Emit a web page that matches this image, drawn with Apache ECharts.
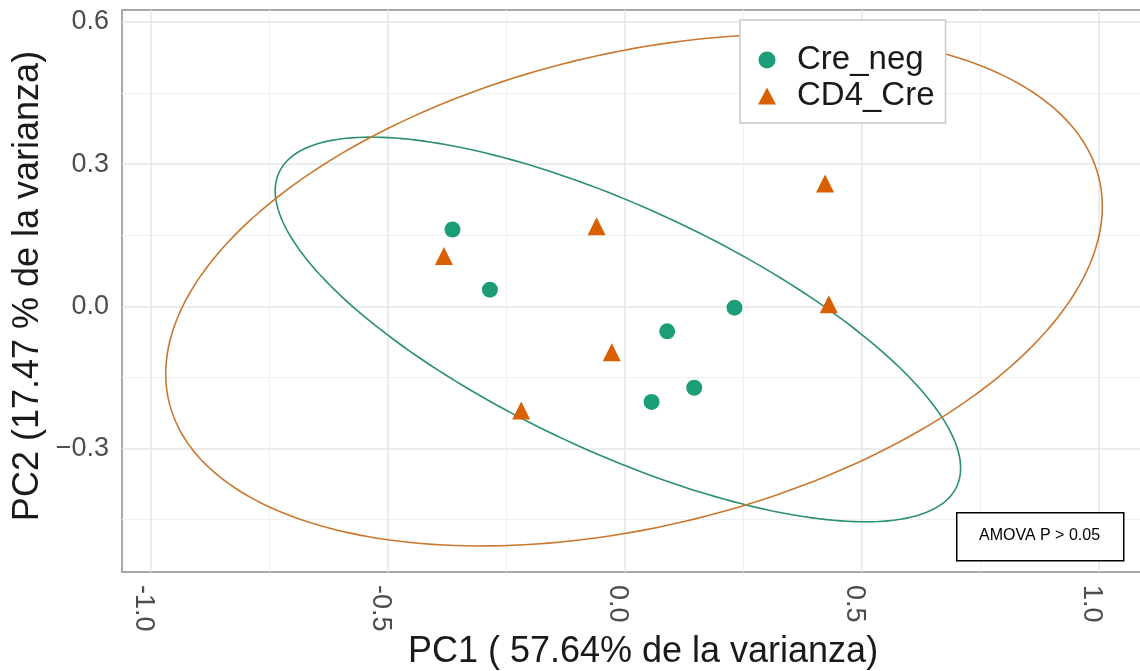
<!DOCTYPE html>
<html><head><meta charset="utf-8">
<script src="https://cdn.jsdelivr.net/npm/echarts@6/dist/echarts.min.js"></script>
<style>html,body{margin:0;padding:0;background:#fff}#c{width:1140px;height:671px}</style>
</head><body><div id="c"></div>
<script>
// ---- data ----
const groupNames = ['Cre_neg', 'CD4_Cre'];
const creNegX = [-0.364, -0.285, 0.231, 0.089, 0.146, 0.056];
const creNegY = [0.162, 0.035, -0.003, -0.053, -0.172, -0.202];
const cd4CreX = [-0.382, -0.060, -0.028, -0.219, 0.422, 0.430];
const cd4CreY = [0.106, 0.169, -0.097, -0.220, 0.259, 0.004];
// ellipse parameters: centre, half-extents along x / y, correlation
const creNegEllipseCenter = [-0.015, -0.049];
const creNegEllipseRadii = [0.723, 0.406];
const creNegEllipseRho = -0.721;
const cd4CreEllipseCenter = [0.019, 0.034];
const cd4CreEllipseRadii = [0.988, 0.540];
const cd4CreEllipseRho = 0.327;
const xTitle = 'PC1 ( 57.64% de la varianza)';
const yTitle = 'PC2 (17.47 % de la varianza)';
const noteText = 'AMOVA P > 0.05';

const colGreen = '#1B9E77', colOrange = '#D95F02';
const FONT = 'Liberation Sans, Arial, sans-serif';

function zip(xs, ys) { return xs.map((x, i) => [x, ys[i]]); }
function fmt(step, minus) {
  return function (v) {
    const k = v / step;
    if (Math.abs(k - Math.round(k)) > 1e-6) return '';
    return v.toFixed(1).replace('-', minus);
  };
}
function ellipseSeries(name, center, radii, rho, color) {
  return {
    type: 'custom', name: name + '_ellipse', z: 1, clip: true, silent: true,
    data: [[center[0], center[1]]],
    encode: { x: 0, y: 1 },
    renderItem: function (params, api) {
      const pts = [];
      const n = 240, s = Math.sqrt(1 - rho * rho);
      for (let i = 0; i <= n; i++) {
        const t = 2 * Math.PI * i / n;
        pts.push(api.coord([center[0] + radii[0] * Math.cos(t),
                            center[1] + radii[1] * (rho * Math.cos(t) + s * Math.sin(t))]));
      }
      return { type: 'polyline', shape: { points: pts }, style: { stroke: color, lineWidth: 1.6, fill: null } };
    }
  };
}

const chart = echarts.init(document.getElementById('c'), null, { renderer: 'canvas' });
chart.setOption({
  animation: false,
  backgroundColor: '#fff',
  grid: { left: 122, top: 10, right: -24, bottom: 99, show: true, borderColor: '#a8a8a8', borderWidth: 2,
          backgroundColor: 'transparent', containLabel: false, outerBoundsMode: 'none' },
  xAxis: {
    type: 'value', min: -1.0612, max: 1.1371, splitNumber: 4,
    name: xTitle, nameLocation: 'middle', nameGap: 62, nameMoveOverlap: false,
    nameTextStyle: { fontFamily: FONT, fontSize: 36, color: '#1a1a1a' },
    axisLine: { show: false }, axisTick: { show: false },
    axisLabel: { rotate: -90, margin: 13, fontFamily: FONT, fontSize: 27, color: '#4d4d4d',
      verticalAlign: 'top', lineHeight: 16,
      showMinLabel: false, showMaxLabel: false, formatter: fmt(0.5, '-') },
    splitLine: { show: true, showMinLine: false, showMaxLine: false, lineStyle: { color: '#e6e6e6', width: 1.5 } },
    minorTick: { show: false, splitNumber: 2 },
    minorSplitLine: { show: true, lineStyle: { color: '#f0f0f0', width: 1 } }
  },
  yAxis: {
    type: 'value', min: -0.561, max: 0.6254, splitNumber: 4,
    name: yTitle, nameLocation: 'middle', nameGap: 76, nameMoveOverlap: false,
    nameTextStyle: { fontFamily: FONT, fontSize: 36, color: '#1a1a1a', padding: [0, 0, 0, 10] },
    axisLine: { show: false }, axisTick: { show: false },
    axisLabel: { margin: 13, fontFamily: FONT, fontSize: 27, color: '#4d4d4d',
      showMinLabel: false, showMaxLabel: false, formatter: fmt(0.3, '\u2212') },
    splitLine: { show: true, showMinLine: false, showMaxLine: false, lineStyle: { color: '#e6e6e6', width: 1.5 } },
    minorTick: { show: false, splitNumber: 2 },
    minorSplitLine: { show: true, lineStyle: { color: '#f0f0f0', width: 1 } }
  },
  legend: {
    data: groupNames, orient: 'vertical', left: 740, top: 20,
    padding: [22, 11, 9, 18], itemGap: 0, itemWidth: 18, itemHeight: 17, symbolKeepAspect: true,
    backgroundColor: '#fff', borderColor: '#c8c8c8', borderWidth: 1.5, borderRadius: 0,
    textStyle: { fontFamily: FONT, fontSize: 33, color: '#1a1a1a', lineHeight: 36, padding: [0, 0, 0, 16] },
    selectedMode: false
  },
  series: [
    ellipseSeries('Cre_neg', creNegEllipseCenter, creNegEllipseRadii, creNegEllipseRho, '#2a8f73'),
    ellipseSeries('CD4_Cre', cd4CreEllipseCenter, cd4CreEllipseRadii, cd4CreEllipseRho, '#c8782f'),
    { type: 'scatter', name: groupNames[0], z: 3, symbol: 'circle', symbolSize: 16,
      itemStyle: { color: colGreen, opacity: 1 }, data: zip(creNegX, creNegY) },
    { type: 'scatter', name: groupNames[1], z: 3, symbol: 'triangle', symbolSize: 18,
      itemStyle: { color: colOrange, opacity: 1 }, data: zip(cd4CreX, cd4CreY) }
  ],
  graphic: [
    { type: 'rect', left: 956, top: 512, z: 100,
      shape: { width: 167, height: 48 }, style: { fill: '#fff', stroke: '#000', lineWidth: 1.5 } },
    { type: 'text', x: 1039.5, y: 536, z: 101,
      style: { text: noteText, font: '16px Liberation Sans', fill: '#000', textAlign: 'center', textVerticalAlign: 'middle' } }
  ]
});
</script></body></html>
